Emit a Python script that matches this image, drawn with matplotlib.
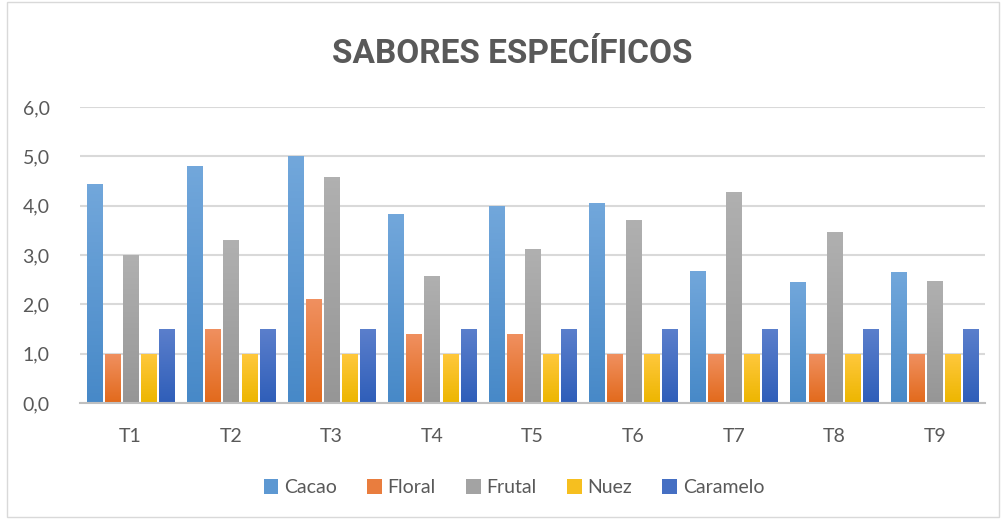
import matplotlib.pyplot as plt
import matplotlib.colors as mcolors
import numpy as np

plt.rcParams['font.family'] = ['Lato', 'DejaVu Sans']

# Datos
tratamientos = ['T1', 'T2', 'T3', 'T4', 'T5', 'T6', 'T7', 'T8', 'T9']
cacao = [4.43, 4.8, 5.0, 3.82, 4.0, 4.06, 2.68, 2.46, 2.65]
floral = [1.0, 1.5, 2.1, 1.4, 1.4, 1.0, 1.0, 1.0, 1.0]
frutal = [3.0, 3.3, 4.57, 2.58, 3.13, 3.7, 4.27, 3.46, 2.48]
nuez = [1.0, 1.0, 1.0, 1.0, 1.0, 1.0, 1.0, 1.0, 1.0]
caramelo = [1.5, 1.5, 1.5, 1.5, 1.5, 1.5, 1.5, 1.5, 1.5]

# (nombre, valores, color arriba, color abajo)
series = [('Cacao', cacao, '#72A7DB', '#4789C8'),
          ('Floral', floral, '#F09060', '#E26A1C'),
          ('Frutal', frutal, '#B0B0B0', '#969696'),
          ('Nuez', nuez, '#FFC83D', '#EDB600'),
          ('Caramelo', caramelo, '#5B7FCC', '#2F5EB9')]

fig = plt.figure(figsize=(10.02, 5.19), dpi=100)
ax = fig.add_axes([0.08, 0.2235, 0.903, 0.5705])

x = np.arange(len(tratamientos))
ancho = 0.15
paso = 0.18
grad = np.linspace(1, 0, 64).reshape(-1, 1)
for i, (nombre, valores, c_arriba, c_abajo) in enumerate(series):
    media = np.mean([mcolors.to_rgb(c_arriba), mcolors.to_rgb(c_abajo)], axis=0)
    barras = ax.bar(x + (i - 2) * paso, valores, ancho, color=media, label=nombre, zorder=3)
    cmap = mcolors.LinearSegmentedColormap.from_list(nombre, [c_abajo, c_arriba])
    for b in barras:
        x0, y0 = b.get_x(), b.get_y()
        im = ax.imshow(grad, cmap=cmap, aspect='auto', zorder=4,
                       extent=(x0, x0 + b.get_width(), y0, y0 + b.get_height()),
                       vmin=0, vmax=1)
        im.set_clip_path(b)

ax.set_xlim(-0.5, len(tratamientos) - 0.5)
ax.set_ylim(0, 6)
ax.set_yticks(np.arange(0, 6.1, 1))
ax.set_yticklabels([f'{v:.1f}'.replace('.', ',') for v in np.arange(0, 6.1, 1)])
ax.set_xticks(x)
ax.set_xticklabels(tratamientos)
ax.tick_params(axis='both', length=0, labelsize=14, colors='#595959')
ax.tick_params(axis='x', pad=18)
ax.tick_params(axis='y', pad=22)
ax.grid(axis='y', color='#D9D9D9', linewidth=1.5, zorder=0)
for lado in ['top', 'right', 'left']:
    ax.spines[lado].set_visible(False)
ax.spines['bottom'].set_color('#BFBFBF')
ax.spines['bottom'].set_linewidth(1.5)
ax.spines['bottom'].set_zorder(5)

fig.text(0.511, 0.895, 'SABORES ESPECÍFICOS', ha='center', va='center',
         fontsize=24, fontweight='bold', color='#595959', family='Roboto')

fig.legend(loc='center', bbox_to_anchor=(0.513, 0.06), ncol=5, frameon=False,
           fontsize=14, handlelength=0.75, handleheight=0.75, handletextpad=0.3,
           columnspacing=1.55, labelcolor='#595959')

# Borde del grafico
borde = plt.Rectangle((0.007, 0.003), 0.99, 0.994, transform=fig.transFigure,
                      fill=False, edgecolor='#D9D9D9', linewidth=1)
fig.patches.append(borde)

fig.savefig('out.png', dpi=100)
